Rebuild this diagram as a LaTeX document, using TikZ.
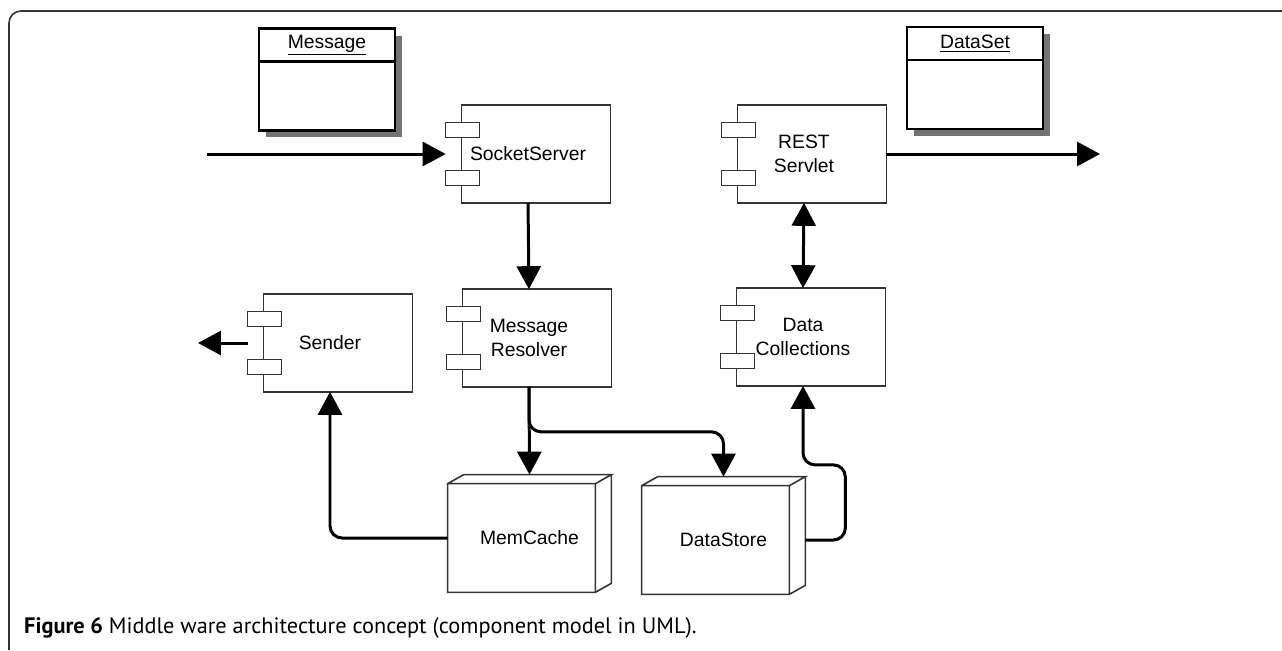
\documentclass[tikz,border=0pt]{standalone}
\usepackage{fontspec}
\setmainfont{Liberation Sans}
\newfontfamily\capfont{PT Sans}
\usepackage{tikz}
\usetikzlibrary{arrows.meta,calc,shadows,backgrounds}

\begin{document}
\begin{tikzpicture}[x=0.02cm, y=-0.02cm,
    every node/.style={font=\fontsize{11}{13.5}\selectfont},
    >={Triangle[length=0.46cm,width=0.48cm]},
    comp/.style={minimum width=3.28cm, minimum height=1.94cm, inner sep=0pt, align=center},
    cube/.style={minimum width=3.26cm, minimum height=2.16cm, inner sep=0pt, align=center},
    body/.style={draw=black!80, line width=0.9pt},
    port/.style={draw=black!80, fill=white, line width=0.9pt},
    cls/.style={draw, line width=1.4pt, fill=white, minimum width=2.72cm, minimum height=2.04cm,
      drop shadow={shadow xshift=0.14cm, shadow yshift=-0.14cm, fill=black!55, opacity=1}},
    flow/.style={line width=1.7pt, ->, rounded corners=0.24cm}]
  \useasboundingbox (0,0) rectangle (1282,650);
  \draw[black!80, line width=0.9pt, rounded corners=0.24cm] (9,650) -- (9,11) -- (1282,11);

  % components
  \node[comp] (sock) at (528,154) {SocketServer};
  \node[comp] (resolv) at (529,338) {Message\\Resolver};
  \node[comp] (rest) at (804,154) {REST\\Servlet};
  \node[comp] (coll) at (803,337) {Data\\Collections};
  \node[comp] (send) at (330,343) {Sender};
  \node[cube] (memc) at (529.5,538) {MemCache};
  \node[cube] (dstore) at (723.5,540) {DataStore};
  \begin{scope}[on background layer]
    \foreach \n in {sock,resolv,rest,coll,send} {
      \draw[body] ($(\n.north west)+(16,0)$) rectangle (\n.south east);
      \foreach \dy in {-24,24}
        \draw[port] ($(\n.west)+(0,\dy-7.5)$) rectangle +(34,15);
    }
    \foreach \n in {memc,dstore}
      \draw[body] (\n.north west) rectangle ($(\n.south east)+(-16,0)$)
        (\n.north west) -- ++(16,-9) -- ($(\n.north east)+(0,-9)$) -- ($(\n.north east)+(-16,0)$)
        ($(\n.north east)+(0,-9)$) -- ($(\n.south east)+(0,-9)$) -- ($(\n.south east)+(-16,0)$);
  \end{scope}

  % classes
  \node[cls] (msg) at (327,79.5) {};
  \node[cls] (dset) at (975,78) {};
  \foreach \n/\t in {msg/Message,dset/DataSet} {
    \draw[line width=1.4pt] ($(\n.north west)+(0,34)$) -- ($(\n.north east)+(0,34)$);
    \node (\n-t) at ($(\n.north)+(0,18)$) {\underline{\t}};
  }

  % connectors
  \coordinate (inS) at (207,154);
  \coordinate (outR) at (1100,154);
  \coordinate (outS) at (198,343);
  \draw[flow] (inS) -- (sock.west);
  \draw[flow] (rest.east) -- (outR);
  \draw[flow] (send.west) -- (outS);
  \draw[flow] (sock.south) -- (resolv.north);
  \draw[flow, <->] (rest.south) -- (coll.north);
  \draw[flow] (resolv.south) -- ($(memc.north)+(0,-9)$);
  \draw[flow] (resolv.south) -- ++(0,45) -| ($(dstore.north)+(0,-9)$);
  \draw[flow] (memc.west) -| (send.south);
  \draw[flow] (dstore.east) -- ++(40,0) |- ($(coll.south)+(0,79)$) -- (coll.south);

  \node[anchor=west, font=\capfont\fontsize{12.7}{15}\selectfont] (cap) at (18,628)
    {\textbf{Figure 6} Middle ware architecture concept (component model in UML).};
\end{tikzpicture}
\end{document}
